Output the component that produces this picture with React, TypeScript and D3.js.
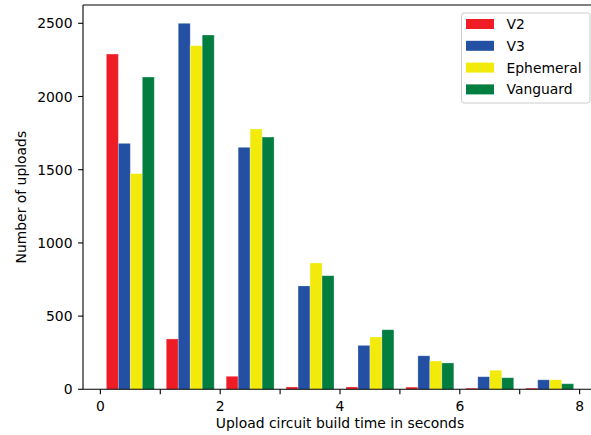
import * as d3 from "d3";
import { useEffect, useRef } from "react";

// bin left edges (seconds), one bin per second
const bins = [0, 1, 2, 3, 4, 5, 6, 7];
const seriesNames = ["V2", "V3", "Ephemeral", "Vanguard"];
const seriesColors = ["#ee1c25", "#2450a4", "#f2ea0b", "#027d40"];

const v2 = [2290, 344, 89, 16, 16, 15, 8, 8];
const v3 = [1680, 2500, 1653, 706, 300, 229, 86, 65];
const ephemeral = [1473, 2347, 1778, 863, 357, 193, 130, 65];
const vanguard = [2133, 2420, 1723, 776, 407, 180, 79, 38];

const yTicks = [0, 500, 1000, 1500, 2000, 2500];
const xTicks = [0, 1, 2, 3, 4, 5, 6, 7, 8];
const xLabels = [0, 2, 4, 6, 8];

const W = 591;
const H = 435;
const FONT = "DejaVu Sans, sans-serif";

export default function App() {
  const svgRef = useRef<SVGSVGElement | null>(null);

  useEffect(() => {
    if (!svgRef.current) return;
    const svg = d3.select(svgRef.current);
    svg.selectAll("*").remove();

    const left = 83;
    const right = 597;
    const top = 5;
    const bottom = 389.3;

    const x = d3.scaleLinear().domain([-0.29, 8.29]).range([left, right]);
    const y = d3.scaleLinear().domain([0, 2625]).range([bottom, top]);

    const allSeries = [v2, v3, ephemeral, vanguard];
    const barW = 0.2;

    // bars
    allSeries.forEach((vals, si) => {
      svg
        .append("g")
        .selectAll("rect")
        .data(vals)
        .join("rect")
        .attr("x", (_, i) => x(bins[i] + 0.1 + si * barW))
        .attr("width", x(barW) - x(0))
        .attr("y", (d) => y(d))
        .attr("height", (d) => y(0) - y(d))
        .attr("fill", seriesColors[si])
        .attr("stroke", "#fff")
        .attr("stroke-opacity", 0.35)
        .attr("stroke-width", 0.8);
    });

    // spines
    const ax = svg.append("g").attr("stroke", "#000").attr("stroke-width", 1.1);
    ax.append("line").attr("x1", left).attr("x2", left).attr("y1", top).attr("y2", bottom);
    ax.append("line").attr("x1", left).attr("x2", right).attr("y1", bottom).attr("y2", bottom);
    ax.append("line").attr("x1", left).attr("x2", right).attr("y1", top).attr("y2", top);

    // x ticks
    const xt = svg.append("g");
    xt.selectAll("line")
      .data(xTicks)
      .join("line")
      .attr("x1", (d) => x(d))
      .attr("x2", (d) => x(d))
      .attr("y1", bottom)
      .attr("y2", bottom + 4.9)
      .attr("stroke", "#000")
      .attr("stroke-width", 1.1);
    xt.selectAll("text")
      .data(xLabels)
      .join("text")
      .attr("x", (d) => x(d))
      .attr("y", 411)
      .attr("text-anchor", "middle")
      .attr("font-family", FONT)
      .attr("font-size", 13.9)
      .attr("fill", "#000")
      .text((d) => d);

    // y ticks
    const yt = svg.append("g");
    yt.selectAll("line")
      .data(yTicks)
      .join("line")
      .attr("x1", left - 4.9)
      .attr("x2", left)
      .attr("y1", (d) => y(d))
      .attr("y2", (d) => y(d))
      .attr("stroke", "#000")
      .attr("stroke-width", 1.1);
    yt.selectAll("text")
      .data(yTicks)
      .join("text")
      .attr("x", left - 10.5)
      .attr("y", (d) => y(d) + 5)
      .attr("text-anchor", "end")
      .attr("font-family", FONT)
      .attr("font-size", 13.9)
      .attr("fill", "#000")
      .text((d) => d);

    // axis labels
    svg
      .append("text")
      .attr("x", (left + right) / 2)
      .attr("y", 428)
      .attr("text-anchor", "middle")
      .attr("font-family", FONT)
      .attr("font-size", 13.9)
      .text("Upload circuit build time in seconds");
    svg
      .append("text")
      .attr("transform", `translate(26, ${(top + bottom) / 2}) rotate(-90)`)
      .attr("text-anchor", "middle")
      .attr("font-family", FONT)
      .attr("font-size", 13.9)
      .text("Number of uploads");

    // legend
    const lg = svg.append("g").attr("transform", "translate(461.5, 13)");
    lg.append("rect")
      .attr("width", 128.5)
      .attr("height", 90)
      .attr("rx", 2.5)
      .attr("fill", "#fff")
      .attr("fill-opacity", 0.8)
      .attr("stroke", "#cccccc")
      .attr("stroke-width", 1);
    const item = lg
      .selectAll("g.item")
      .data(seriesNames)
      .join("g")
      .attr("class", "item")
      .attr("transform", (_, i) => `translate(0, ${11 + i * 21.8})`);
    item
      .append("rect")
      .attr("x", 4.5)
      .attr("y", -5)
      .attr("width", 28)
      .attr("height", 10)
      .attr("fill", (_, i) => seriesColors[i]);
    item
      .append("text")
      .attr("x", 45)
      .attr("y", 5)
      .attr("font-family", FONT)
      .attr("font-size", 13.9)
      .attr("fill", "#000")
      .text((d) => d);
  }, []);

  return (
    <svg
      ref={svgRef}
      width={W}
      height={H}
      style={{ position: "absolute", left: 0, top: 0, background: "#fff" }}
    />
  );
}
